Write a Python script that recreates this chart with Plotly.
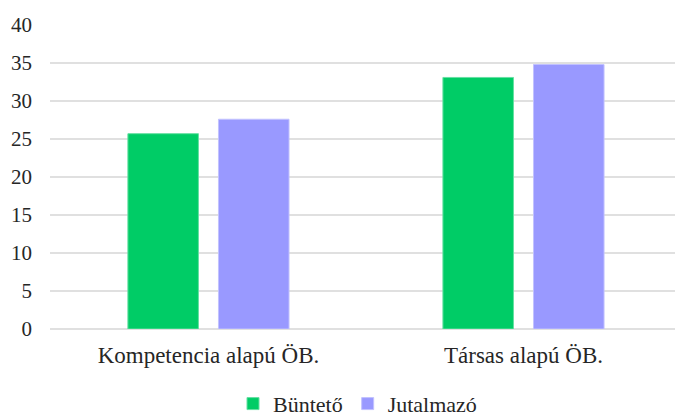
import plotly.graph_objects as go

categories = ["Kompetencia alapú ÖB.", "Társas alapú ÖB."]
series_names = ["Büntető", "Jutalmazó"]
buntető = [25.7, 33.1]
jutalmazo = [27.6, 34.8]
colors = ["#00CC66", "#9999FF"]
line_colors = ["#66E0A3", "#C2C2FF"]
tick_vals = [0, 5, 10, 15, 20, 25, 30, 35, 40]

FONT = "Liberation Serif"

fig = go.Figure()
for name, vals, c, lc in zip(series_names, [buntető, jutalmazo], colors, line_colors):
    fig.add_trace(go.Bar(
        x=categories, y=vals, name=name,
        marker=dict(color=c, line=dict(color=lc, width=1)),
        hoverinfo="skip",
    ))

fig.update_layout(
    width=675, height=419,
    margin=dict(l=50, r=0, t=25, b=90, autoexpand=False),
    paper_bgcolor="white", plot_bgcolor="white",
    barmode="group", bargap=0.425, bargroupgap=0.221,
    font=dict(family=FONT, color="#262626", size=21),
    showlegend=True,
    legend=dict(orientation="h", xanchor="center", x=0.492,
                yanchor="middle", y=-0.246,
                font=dict(family=FONT, size=22, color="#262626"),
                itemwidth=30, tracegroupgap=0),
)
fig.update_xaxes(
    type="category", range=[-0.503, 1.481],
    showgrid=False, showline=False, ticks="",
    tickfont=dict(family=FONT, size=23, color="#262626"),
    ticklabelstandoff=10, automargin=False,
)
fig.update_yaxes(
    range=[0, 40], tickvals=tick_vals,
    showgrid=True, gridcolor="#E0E0E0", gridwidth=2,
    zeroline=True, zerolinecolor="#E0E0E0", zerolinewidth=2,
    showline=False, ticks="",
    tickfont=dict(family=FONT, size=21, color="#262626"),
    ticklabelstandoff=17, automargin=False,
)

fig.write_html(
    "out.html",
    config={"displayModeBar": False},
    post_script="document.body.style.margin='0';document.body.style.overflow='hidden';",
)
